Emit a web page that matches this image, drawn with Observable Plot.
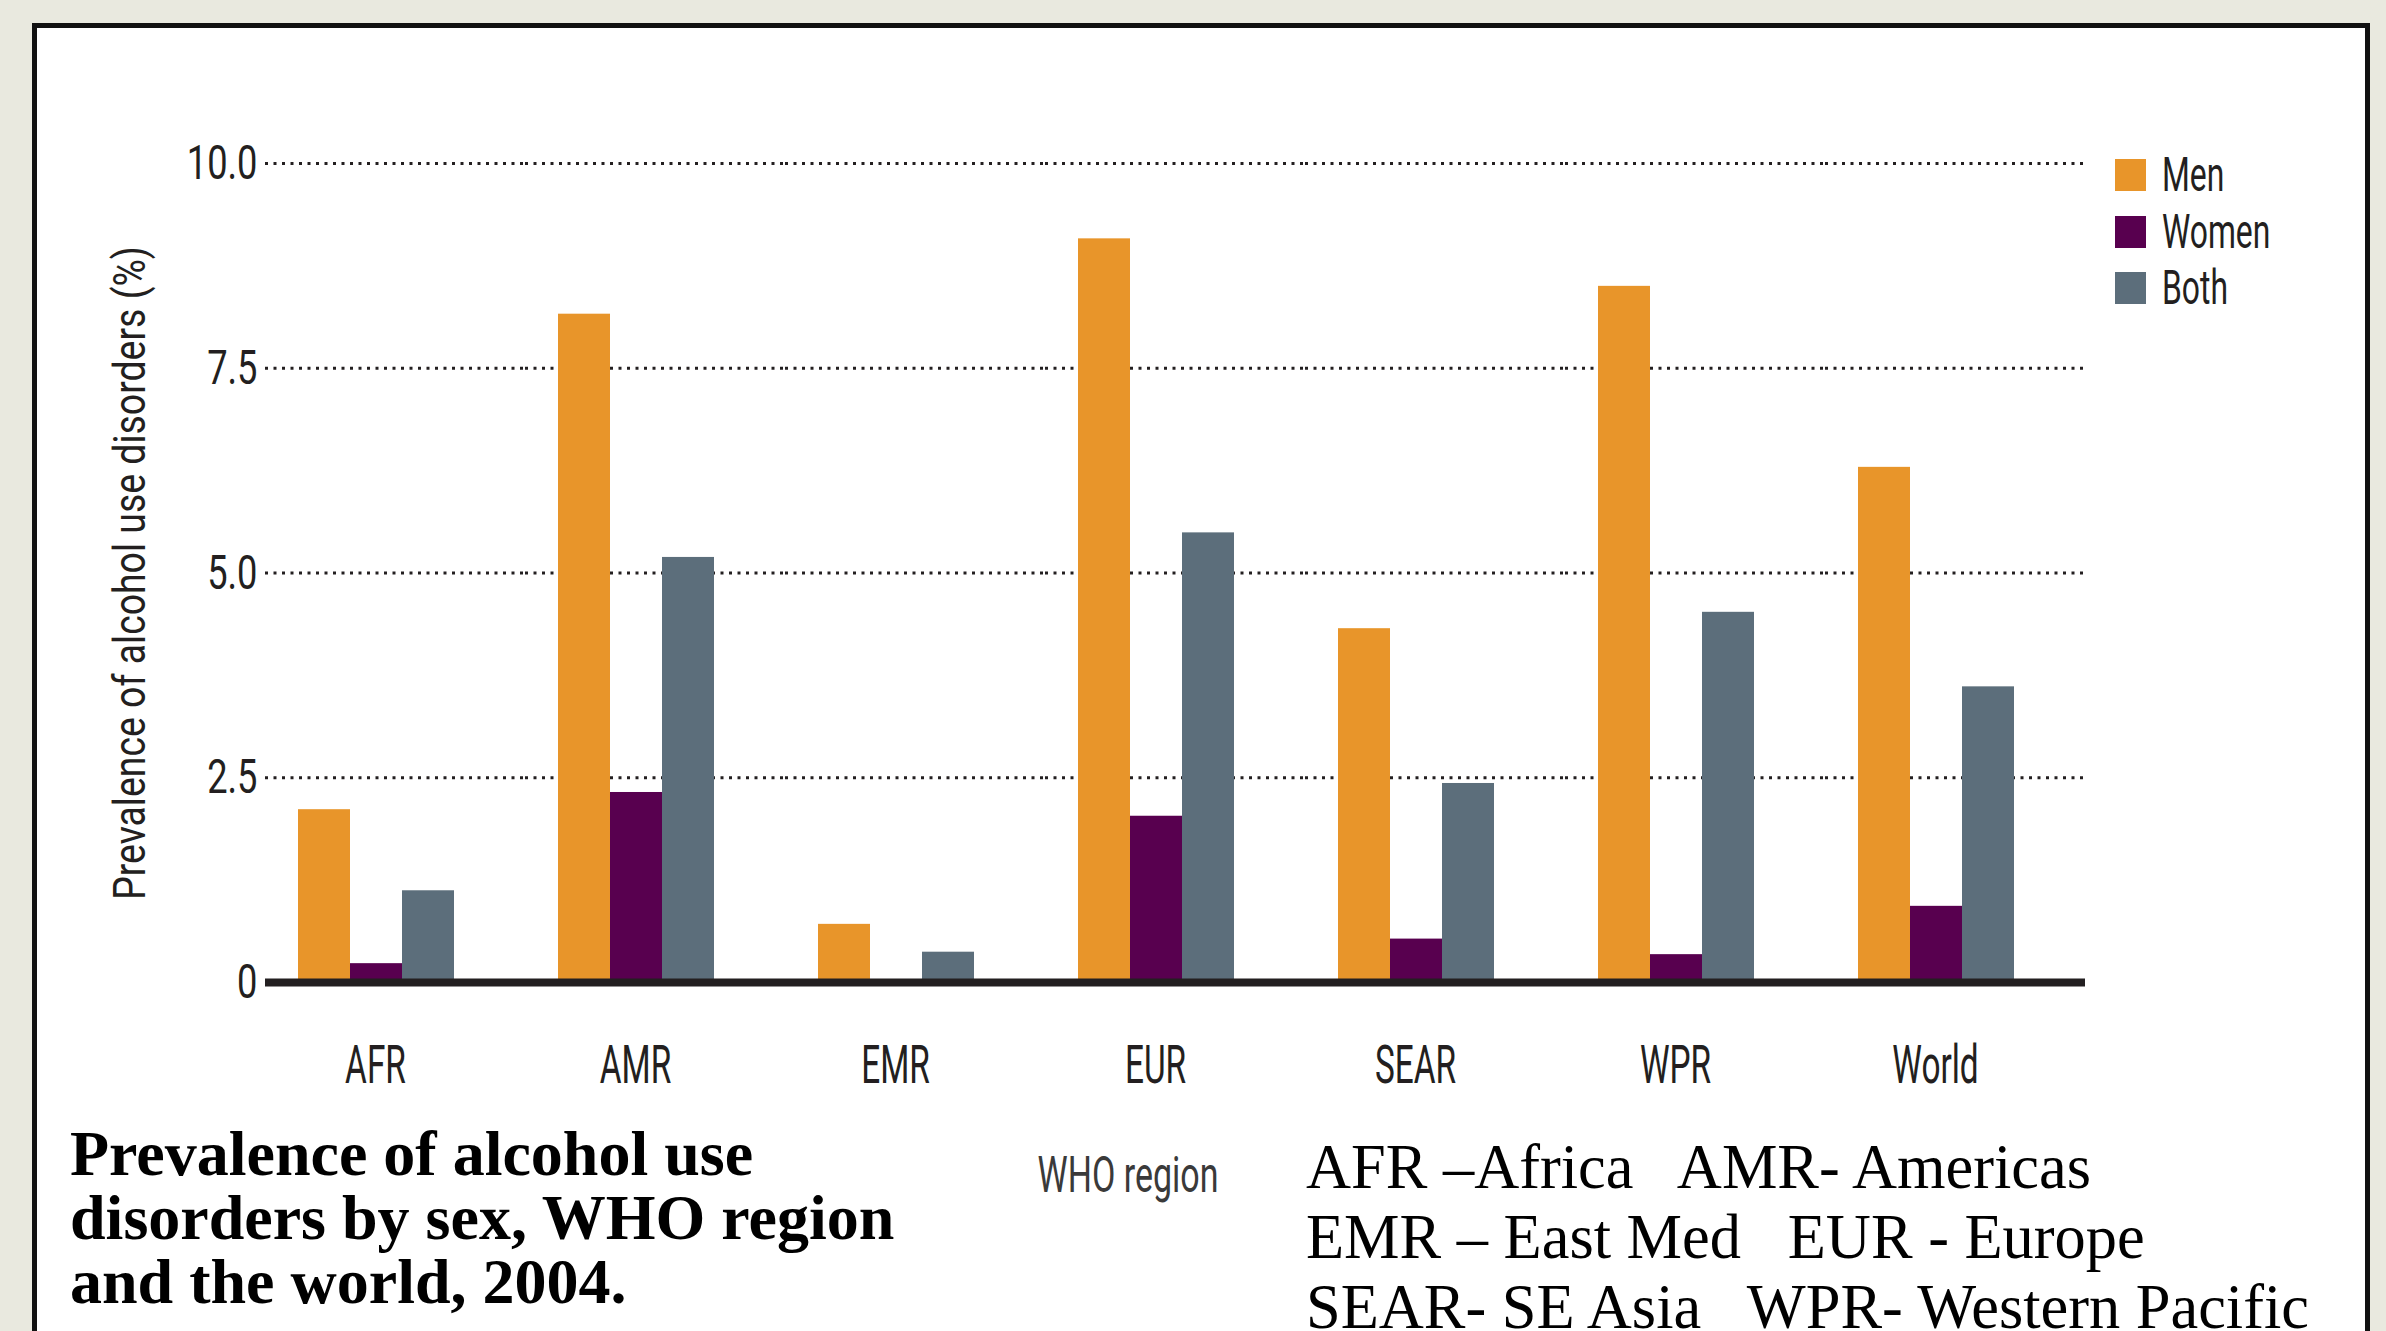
<!DOCTYPE html>
<html>
<head>
<meta charset="utf-8">
<script src="https://cdn.jsdelivr.net/npm/d3@7"></script>
<script src="https://cdn.jsdelivr.net/npm/@observablehq/plot@0.6"></script>
<style>
  html, body { margin: 0; padding: 0; }
  body { width: 2386px; height: 1331px; overflow: hidden; background: #E9E9DF; position: relative; font-family: Roboto, sans-serif; }
  #box { position: absolute; left: 32px; top: 23px; width: 2338px; height: 1400px; box-sizing: border-box; border: 5px solid #111; border-bottom: none; background: #fff; }
  #chart { position: absolute; left: 0; top: 0; }
  #legend { position: absolute; left: 2115px; top: 150px; }
  .lg-item { position: relative; height: 56.5px; }
  .lg-sw { position: absolute; left: 0; top: 9px; width: 31px; height: 32px; }
  .lg-tx { position: absolute; left: 47px; top: 0; font-family: Roboto, sans-serif; font-size: 49px; line-height: 1; color: #231F20; transform: scaleX(0.65); transform-origin: 0 0; white-space: nowrap; }
  #xlabel { position: absolute; left: 1128px; top: 1150px; font-family: Roboto, sans-serif; font-size: 50px; line-height: 1; color: #3a3a3a; transform: translateX(-50%) scaleX(0.68); transform-origin: 50% 0; white-space: nowrap; }
  #title { position: absolute; left: 70px; top: 1122px; font-family: "Liberation Serif", "DejaVu Serif", serif; font-weight: bold; font-size: 64px; line-height: 64px; color: #000; white-space: nowrap; }
  #key { position: absolute; left: 1306px; top: 1132px; font-family: "Liberation Serif", "DejaVu Serif", serif; font-size: 62.4px; line-height: 70px; color: #000; white-space: pre; }
</style>
</head>
<body>
<div id="box"></div>
<div id="chart"></div>
<div id="legend"></div>
<div id="xlabel"></div>
<div id="title"></div>
<div id="key"></div>
<script>
// ---- data ----
const regions = ["AFR", "AMR", "EMR", "EUR", "SEAR", "WPR", "World"];
const series = ["Men", "Women", "Both"];
const men   = [2.11, 8.16, 0.71, 9.08, 4.32, 8.50, 6.29];
const women = [0.23, 2.32, 0.00, 2.03, 0.53, 0.34, 0.93];
const both  = [1.12, 5.19, 0.37, 5.49, 2.43, 4.52, 3.61];
const seriesColors = ["#E8952A", "#58004F", "#5C6E7B"];
const yTicks = [0, 2.5, 5, 7.5, 10];
const yTickLabels = ["0", "2.5", "5.0", "7.5", "10.0"];
const yLabel = "Prevalence of alcohol use disorders (%)";
const xLabel = "WHO region";
const titleLines = ["Prevalence of alcohol use", "disorders by sex, WHO region", "and the world, 2004."];
const keyLines = ["AFR \u2013Africa   AMR- Americas", "EMR \u2013 East Med   EUR - Europe", "SEAR- SE Asia   WPR- Western Pacific"];

const valuesBySeries = [men, women, both];
const rows = [];
regions.forEach((r, i) => series.forEach((s, j) => rows.push({region: r, sex: s, value: valuesBySeries[j][i]})));

const ink = "#231F20";

const chart = Plot.plot({
  width: 2386,
  height: 1120,
  marginLeft: 265,
  marginRight: 301,
  marginTop: 163,
  marginBottom: 138,
  style: {background: "transparent", fontFamily: "Roboto, sans-serif", color: ink},
  fx: {domain: regions, padding: 0, label: null},
  x: {domain: series, padding: 0, insetLeft: 32, insetRight: 70, axis: null},
  y: {domain: [0, 10], label: null},
  color: {domain: series, range: seriesColors},
  marks: [
    Plot.gridY(yTicks, {stroke: ink, strokeOpacity: 1, strokeWidth: 3, strokeDasharray: "3,5.5"}),
    Plot.barY(rows, {fx: "region", x: "sex", y: "value", fill: "sex"}),
    Plot.ruleY([0], {stroke: ink, strokeWidth: 8}),
    Plot.axisY(yTicks, {tickSize: 0, tickPadding: 8, fontSize: 49, fill: ink, label: null,
      tickFormat: d => yTickLabels[yTicks.indexOf(d)]}),
    Plot.axisY([], {tickSize: 0, fontSize: 44, fill: ink, label: yLabel, labelArrow: "none", labelAnchor: "center", labelOffset: 152}),
    Plot.axisFx({anchor: "bottom", tickSize: 0, tickPadding: 63, fontSize: 53, fill: ink, dx: -20, label: null})
  ]
});
document.getElementById("chart").appendChild(chart);

// condense the axis texts (the reference uses a condensed face)
function squeeze(root, label, sx) {
  root.querySelectorAll(`g[aria-label="${label}"] text`).forEach(t => {
    const tr = t.getAttribute("transform");
    if (tr) {
      t.setAttribute("transform", `${tr} scale(${sx},1)`);
    } else {
      const xa = t.getAttribute("x");
      const x = xa != null && /^-?[\d.]+$/.test(xa) ? +xa : 0;
      t.setAttribute("transform", `translate(${x},0) scale(${sx},1) translate(${-x},0)`);
    }
  });
}
squeeze(chart, "y-axis tick label", 0.74);
squeeze(chart, "y-axis label", 0.85);
squeeze(chart, "fx-axis tick label", 0.63);

// legend
const legend = document.getElementById("legend");
series.forEach((s, i) => {
  const item = document.createElement("div");
  item.className = "lg-item";
  const sw = document.createElement("div");
  sw.className = "lg-sw";
  sw.style.background = seriesColors[i];
  const tx = document.createElement("div");
  tx.className = "lg-tx";
  tx.textContent = s;
  item.appendChild(sw); item.appendChild(tx);
  legend.appendChild(item);
});

document.getElementById("xlabel").textContent = xLabel;
document.getElementById("title").innerHTML = titleLines.map(l => `<div>${l}</div>`).join("");
document.getElementById("key").innerHTML = keyLines.map(l => `<div>${l}</div>`).join("");
</script>
</body>
</html>
